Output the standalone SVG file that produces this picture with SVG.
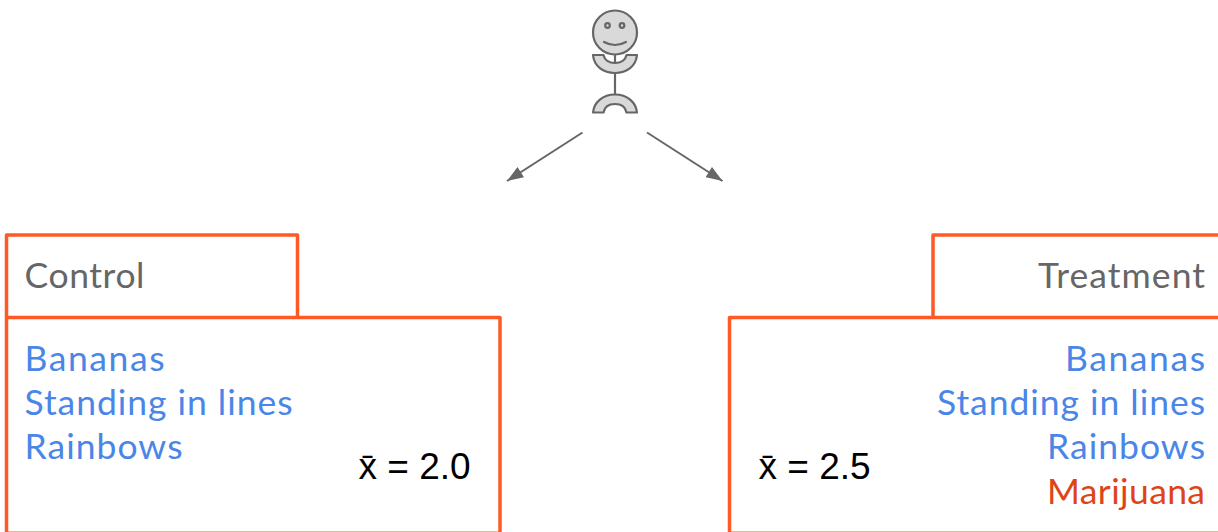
<svg xmlns="http://www.w3.org/2000/svg" width="1218" height="532" viewBox="0 0 1218 532">
<style>
.box{fill:none;stroke:#ff5a26;stroke-width:3.500;stroke-linejoin:round}
.t{font-family:"Lato","Open Sans",sans-serif;font-size:35.500px}
.g{fill:#666}
.b{fill:#4a86e8}
.r{fill:#dd4418}
.m{font-family:"Liberation Sans",Arial,sans-serif;font-size:37px;fill:#000}
.p{fill:#d9d9d9;stroke:#666;stroke-width:2.200;stroke-linejoin:round}
.l{fill:none;stroke:#666;stroke-width:2.200;stroke-linecap:round}
.c{fill:none;stroke:#666;stroke-width:2}
</style>
<defs>
<marker id="a" markerUnits="userSpaceOnUse" markerWidth="18" markerHeight="12" refX="15" refY="5.500" orient="auto" viewBox="0 0 16 11"><path d="M0 0L15 5.500L0 11Z" fill="#666"/></marker>
</defs>
<g id="person">
<line class="l" x1="615" y1="52" x2="615" y2="96"/>
<circle class="p" cx="615" cy="32.500" r="22"/>
<circle class="l" cx="607.500" cy="25.500" r="2.300"/>
<circle class="l" cx="622" cy="25.500" r="2.300"/>
<path class="l" d="M604 42Q615 48 626 42"/>
<path class="p" d="M593 55H603.500C604.500 60 609 63 615 63C621 63 625.500 60 626.500 55H637C636 66 627 73 615 73C603 73 594 66 593 55Z"/>
<path class="p" d="M593 112.500C594 102 603 94.500 615 94.500C627 94.500 636 102 637 112.500H626.500C625.500 107 621 104 615 104C609 104 604.500 107 603.500 112.500Z"/>
</g>
<g id="connectors">
<line class="c" x1="582.500" y1="132.500" x2="507" y2="181" marker-end="url(#a)"/>
<line class="c" x1="647" y1="132.500" x2="722.500" y2="181" marker-end="url(#a)"/>
</g>
<g id="control">
<path class="box" d="M6.500 317.500V235H297.500V317.500"/>
<path class="box" d="M6.500 532V317.500H500V532"/>
<path d="M6 531.500H500" fill="none" stroke="#ff5a26" stroke-width="1" opacity=".5"/>
<text class="t g" x="24.500" y="287.500" textLength="120">Control</text>
<text class="t b" x="24.500" y="370.500" textLength="140">Bananas</text>
<text class="t b" x="24.500" y="415" textLength="268">Standing in lines</text>
<text class="t b" x="24.500" y="459" textLength="158">Rainbows</text>
<text class="m" x="358.500" y="479">x̄ = 2.0</text>
</g>
<g id="treatment">
<path class="box" d="M933 317.500V235H1218"/>
<path class="box" d="M729.500 532V317.500H1218"/>
<path d="M729 531.500H1218" fill="none" stroke="#ff5a26" stroke-width="1" opacity=".5"/>
<text class="t g" x="1205" y="287.500" text-anchor="end" textLength="167">Treatment</text>
<text class="t b" x="1205" y="370.500" text-anchor="end" textLength="140">Bananas</text>
<text class="t b" x="1205" y="415" text-anchor="end" textLength="268">Standing in lines</text>
<text class="t b" x="1205" y="459" text-anchor="end" textLength="158">Rainbows</text>
<text class="t r" x="1205" y="503.500" text-anchor="end" textLength="158">Marijuana</text>
<text class="m" x="758.500" y="479">x̄ = 2.5</text>
</g>
</svg>
